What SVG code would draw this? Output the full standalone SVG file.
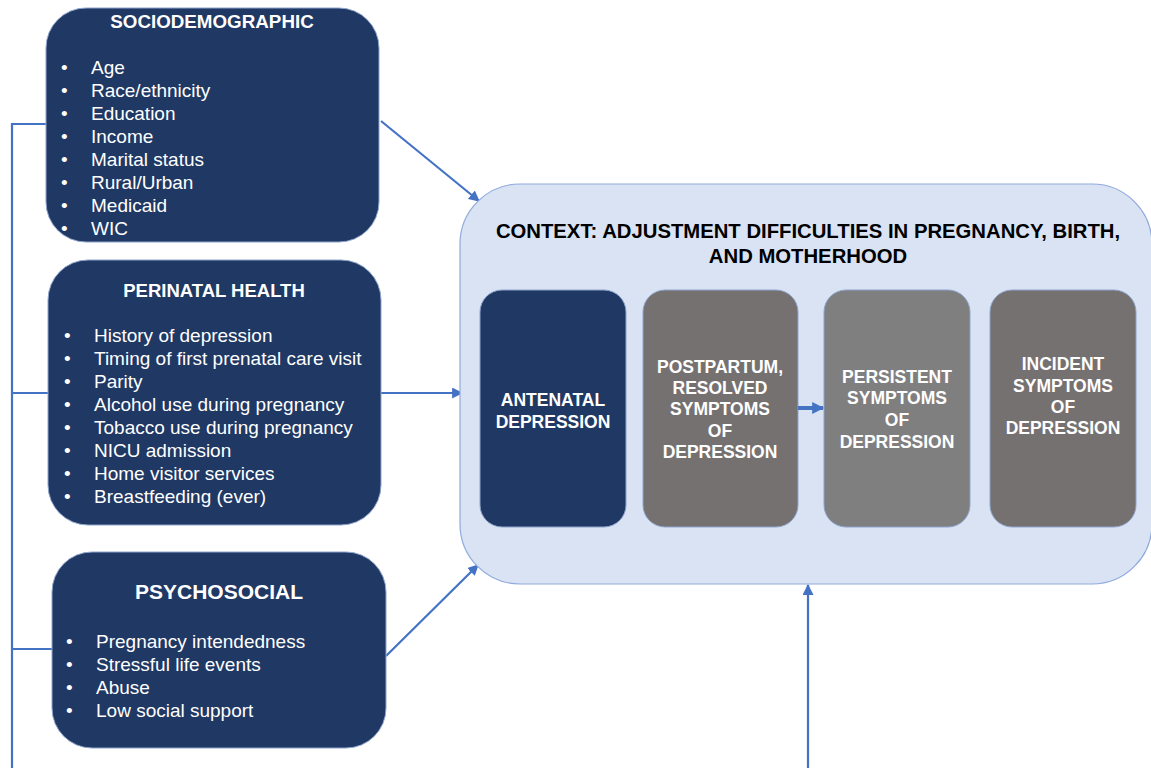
<svg xmlns="http://www.w3.org/2000/svg" width="1151" height="768" viewBox="0 0 1151 768">
<defs>
<style>
.nav{fill:#203864;stroke:#8EA4CC;stroke-width:1}
.gry{fill:#767171;stroke:#8EA4CC;stroke-width:1}
.gry2{fill:#7F7F7F;stroke:#8EA4CC;stroke-width:1}
.ctx{fill:#DAE3F3;stroke:#8FAADC;stroke-width:1.2}
.ttl{font-family:"Liberation Sans",Arial,sans-serif;font-weight:bold;fill:#fff;text-anchor:middle}
.itm{font-family:"Liberation Sans",Arial,sans-serif;font-size:19px;fill:#fff}
.inr{font-family:"Liberation Sans",Arial,sans-serif;font-weight:bold;font-size:17.5px;fill:#fff;text-anchor:middle}
.ctt{font-family:"Liberation Sans",Arial,sans-serif;font-weight:bold;font-size:20.3px;fill:#000;text-anchor:middle}
.ln{fill:none;stroke:#4472C4;stroke-width:2.2}
</style>
<marker id="ah" viewBox="0 0 10 10" refX="9" refY="5" markerWidth="5" markerHeight="5" orient="auto" markerUnits="strokeWidth">
<path d="M0,0 L10,5 L0,10 z" fill="#4472C4"/>
</marker>
<marker id="ah2" viewBox="0 0 10 10" refX="9" refY="5" markerWidth="3" markerHeight="3.5" orient="auto" markerUnits="strokeWidth">
<path d="M0,0 L10,5 L0,10 z" fill="#4472C4"/>
</marker>
</defs>
<rect width="1151" height="768" fill="#fff"/>

<g id="connectors">
<polyline class="ln" points="46,124 12,124 12,768"/>
<line class="ln" x1="12" y1="393" x2="48" y2="393"/>
<line class="ln" x1="12" y1="649" x2="52" y2="649"/>
<line class="ln" x1="381" y1="121" x2="479" y2="201" marker-end="url(#ah)"/>
<line class="ln" x1="381" y1="393" x2="462" y2="393" marker-end="url(#ah)"/>
<line class="ln" x1="386" y1="656" x2="478" y2="565" marker-end="url(#ah)"/>
<line class="ln" x1="808" y1="768" x2="808" y2="585" marker-end="url(#ah)"/>
</g>

<g id="sociodemographic">
<rect class="nav" x="46" y="8" width="333" height="234" rx="40"/>
<text class="ttl" x="212" y="28" font-size="18.8">SOCIODEMOGRAPHIC</text>
<g class="itm">
<text x="61" y="74">•</text><text x="91" y="74">Age</text>
<text x="61" y="97">•</text><text x="91" y="97">Race/ethnicity</text>
<text x="61" y="120">•</text><text x="91" y="120">Education</text>
<text x="61" y="143">•</text><text x="91" y="143">Income</text>
<text x="61" y="166">•</text><text x="91" y="166">Marital status</text>
<text x="61" y="189">•</text><text x="91" y="189">Rural/Urban</text>
<text x="61" y="212">•</text><text x="91" y="212">Medicaid</text>
<text x="61" y="235">•</text><text x="91" y="235">WIC</text>
</g>
</g>

<g id="perinatal">
<rect class="nav" x="48" y="260" width="333" height="265" rx="40"/>
<text class="ttl" x="214" y="297" font-size="18.5">PERINATAL HEALTH</text>
<g class="itm">
<text x="64" y="342">•</text><text x="94" y="342">History of depression</text>
<text x="64" y="365">•</text><text x="94" y="365">Timing of first prenatal care visit</text>
<text x="64" y="388">•</text><text x="94" y="388">Parity</text>
<text x="64" y="411">•</text><text x="94" y="411">Alcohol use during pregnancy</text>
<text x="64" y="434">•</text><text x="94" y="434">Tobacco use during pregnancy</text>
<text x="64" y="457">•</text><text x="94" y="457">NICU admission</text>
<text x="64" y="480">•</text><text x="94" y="480">Home visitor services</text>
<text x="64" y="503">•</text><text x="94" y="503">Breastfeeding (ever)</text>
</g>
</g>

<g id="psychosocial">
<rect class="nav" x="52" y="552" width="334" height="196" rx="40"/>
<text class="ttl" x="219" y="599" font-size="21">PSYCHOSOCIAL</text>
<g class="itm">
<text x="66" y="648">•</text><text x="96" y="648">Pregnancy intendedness</text>
<text x="66" y="671">•</text><text x="96" y="671">Stressful life events</text>
<text x="66" y="694">•</text><text x="96" y="694">Abuse</text>
<text x="66" y="717">•</text><text x="96" y="717">Low social support</text>
</g>
</g>

<g id="context">
<rect class="ctx" x="460" y="184" width="692" height="400" rx="60"/>
<text class="ctt" x="808" y="238">CONTEXT: ADJUSTMENT DIFFICULTIES IN PREGNANCY, BIRTH,</text>
<text class="ctt" x="808" y="263">AND MOTHERHOOD</text>
</g>

<g id="antenatal">
<rect class="nav" x="480" y="290" width="146" height="237" rx="22"/>
<text class="inr" x="553" y="406">ANTENATAL</text>
<text class="inr" x="553" y="428">DEPRESSION</text>
</g>

<g id="postpartum">
<rect class="gry" x="643" y="290" width="155" height="237" rx="22"/>
<text class="inr" x="720" y="373">POSTPARTUM,</text>
<text class="inr" x="720" y="394">RESOLVED</text>
<text class="inr" x="720" y="415">SYMPTOMS</text>
<text class="inr" x="720" y="437">OF</text>
<text class="inr" x="720" y="458">DEPRESSION</text>
</g>

<g id="persistent">
<rect class="gry2" x="824" y="290" width="146" height="237" rx="22"/>
<text class="inr" x="897" y="383">PERSISTENT</text>
<text class="inr" x="897" y="404">SYMPTOMS</text>
<text class="inr" x="897" y="426">OF</text>
<text class="inr" x="897" y="448">DEPRESSION</text>
</g>

<g id="incident">
<rect class="gry" x="990" y="290" width="146" height="237" rx="22"/>
<text class="inr" x="1063" y="370">INCIDENT</text>
<text class="inr" x="1063" y="392">SYMPTOMS</text>
<text class="inr" x="1063" y="413">OF</text>
<text class="inr" x="1063" y="434">DEPRESSION</text>
</g>

<g id="connectors-inner">
<line x1="798" y1="408" x2="823" y2="408" stroke="#4472C4" stroke-width="4" marker-end="url(#ah2)"/>
</g>
</svg>
